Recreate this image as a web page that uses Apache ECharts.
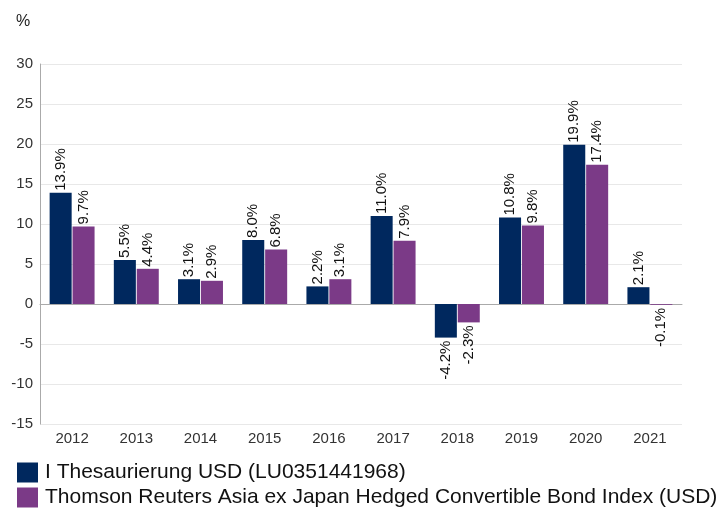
<!DOCTYPE html>
<html><head><meta charset="utf-8">
<script src="https://cdn.jsdelivr.net/npm/echarts@6/dist/echarts.min.js"></script>
<style>html,body{margin:0;padding:0;background:#fff}#c{width:725px;height:509px}</style>
</head><body><div id="c"></div>
<script>
const categories = ['2012','2013','2014','2015','2016','2017','2018','2019','2020','2021'];
const fundValues = [13.9, 5.5, 3.1, 8.0, 2.2, 11.0, -4.2, 10.8, 19.9, 2.1];
const indexValues = [9.7, 4.4, 2.9, 6.8, 3.1, 7.9, -2.3, 9.8, 17.4, -0.1];
const seriesNames = ['I Thesaurierung USD (LU0351441968)', 'Thomson Reuters Asia ex Japan Hedged Convertible Bond Index (USD)'];
const colors = ['#00285e', '#7b3a87'];

function mk(vals){
  return vals.map(v => ({
    value: v,
    label: v < 0 ? {position:'bottom', align:'right', distance:3} : {position:'top', align:'left', distance:2}
  }));
}
const legendText = {fontSize:21, color:'#111', fontFamily:'Liberation Sans, Arial', padding:[0,0,0,2]};
const labelStyle = {show:true, rotate:90, verticalAlign:'middle', fontSize:15, color:'#111', fontFamily:'Liberation Sans, Arial', formatter:p=>p.value.toFixed(1)+'%'};
const chart = echarts.init(document.getElementById('c'), null, {renderer:'canvas'});
chart.setOption({
  animation:false,
  title:{text:'%', left:11, top:9, textStyle:{fontSize:16, fontWeight:'normal', color:'#222', fontFamily:'Liberation Sans, Arial'}},
  legend:[
    {data:[seriesNames[0]], left:17, top:462, padding:0, itemWidth:21, itemHeight:20, icon:'rect', textStyle:legendText},
    {data:[seriesNames[1]], left:17, top:487, padding:0, itemWidth:21, itemHeight:20, icon:'rect', textStyle:legendText}
  ],
  grid:{left:40, right:43, top:64, bottom:85, containLabel:false},
  xAxis:{type:'category', data:categories,
    axisLine:{lineStyle:{color:'#aaa'}}, axisTick:{show:false},
    axisLabel:{fontSize:15, color:'#333', fontFamily:'Liberation Sans, Arial', margin:7}},
  yAxis:{type:'value', min:-15, max:30, interval:5,
    axisLine:{show:true, lineStyle:{color:'#aaa'}}, axisTick:{show:false},
    splitLine:{lineStyle:{color:'#e8e8e8'}},
    axisLabel:{fontSize:15, color:'#333', fontFamily:'Liberation Sans, Arial', margin:7}},
  series:[
    {name:seriesNames[0], type:'bar', data:mk(fundValues), itemStyle:{color:colors[0]},
      barGap:'4%', barCategoryGap:'30%', label:labelStyle},
    {name:seriesNames[1], type:'bar', data:mk(indexValues), itemStyle:{color:colors[1]},
      barGap:'4%', barCategoryGap:'30%', label:labelStyle}
  ]
});
</script></body></html>
